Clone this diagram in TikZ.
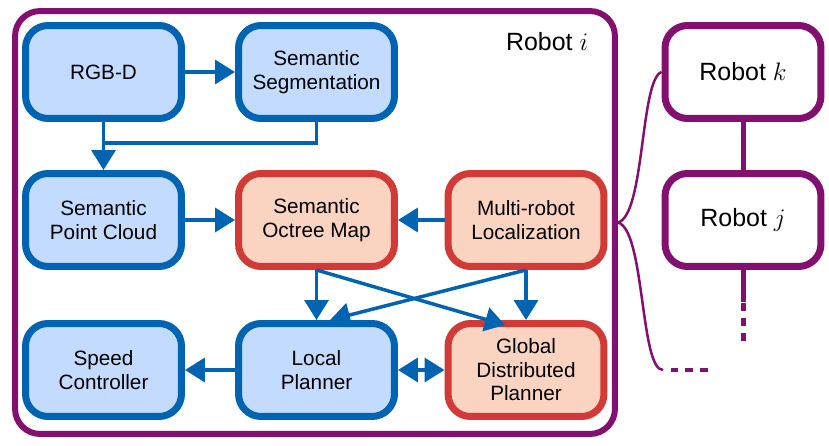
\documentclass[tikz,border=0pt]{standalone}
\usepackage{fontspec}
\setmainfont{Liberation Sans}
\usetikzlibrary{arrows.meta}
\definecolor{bblue}{RGB}{0,100,178}
\definecolor{bfill}{RGB}{194,219,255}
\definecolor{rred}{RGB}{209,58,54}
\definecolor{rfill}{RGB}{251,211,193}
\definecolor{rpurple}{RGB}{131,15,110}
\tikzset{
  blk/.style={draw=bblue, fill=bfill, line width=0.14cm, rounded corners=0.45cm,
    minimum width=3.12cm, minimum height=1.86cm, inner sep=0pt, align=center,
    font=\fontsize{11.8}{13.4}\selectfont},
  redblk/.style={blk, draw=rred, fill=rfill},
  robbox/.style={blk, draw=rpurple, fill=white, font=\fontsize{14.2}{16}\selectfont},
  arr/.style={draw=bblue, line width=0.07cm},
  link/.style={draw=rpurple, line width=0.1cm},
  brace/.style={draw=rpurple, line width=0.05cm}
}
\begin{document}
\begin{tikzpicture}[x=0.02cm, y=-0.02cm, >={Triangle[length=0.4cm, width=0.48cm]}]
	\useasboundingbox (0,0) rectangle (829,446);
	% robot i frame
	\node[draw=rpurple, line width=0.12cm, rounded corners=0.5cm, minimum width=12cm, minimum height=8.46cm] (robi) at (315,222.5) {};
	\node[font=\fontsize{14.2}{16}\selectfont] (robilabel) at (547,42) {Robot $i$};
	% blocks
	\node[blk]    (rgbd)   at (103.5,72)  {RGB-D};
	\node[blk]    (seg)    at (316.5,72)  {Semantic\\Segmentation};
	\node[blk]    (cloud)  at (103.5,220) {Semantic\\Point Cloud};
	\node[redblk] (octree) at (316.5,220) {Semantic\\Octree Map};
	\node[redblk] (loc)    at (526,220)   {Multi-robot\\Localization};
	\node[blk]    (speed)  at (103.5,370) {Speed\\Controller};
	\node[blk]    (local)  at (316.5,370) {Local\\Planner};
	\node[redblk] (global) at (526,370)   {Global\\Distributed\\Planner};
	% other robots
	\node[robbox] (robk) at (743,72)  {Robot $k$};
	\node[robbox] (robj) at (743,220) {Robot $j$};
	% arrows
	\coordinate (mid) at (103.5,143);
	\draw[arr, ->] (rgbd) -- (seg);
	\draw[arr, ->] (rgbd) -- (cloud);
	\draw[arr] (seg.south) |- (mid);
	\draw[arr, ->] (cloud) -- (octree);
	\draw[arr, ->] (loc) -- (octree);
	\draw[arr, ->] (octree) -- (local);
	\draw[arr, ->] (loc) -- (global);
	\draw[arr, ->] (octree.south) -- ([xshift=-0.42cm, yshift=-0.1cm]global.north);
	\draw[arr, ->] (loc.south) -- ([xshift=0.27cm]local.north);
	\draw[arr, ->] (local) -- (speed);
	\draw[arr, <->] (local) -- (global);
	% links between robots
	\coordinate (more) at (663,370);
	\coordinate (jend) at (743,302);
	\draw[brace] (robi.east) .. controls (645,215) and (640,80) .. (robk.west);
	\draw[brace] (robi.east) .. controls (645,230) and (640,370) .. (more);
	\draw[brace, line width=0.08cm, dash pattern=on 0.15cm off 0.15cm, dash phase=0.15cm] (more) -- ++(45,0);
	\draw[link] (robk) -- (robj);
	\draw[link] (robj) -- (jend);
	\draw[link, dash pattern=on 0.16cm off 0.14cm] ([yshift=-0.02cm]jend) -- ++(0,39);
\end{tikzpicture}
\end{document}
